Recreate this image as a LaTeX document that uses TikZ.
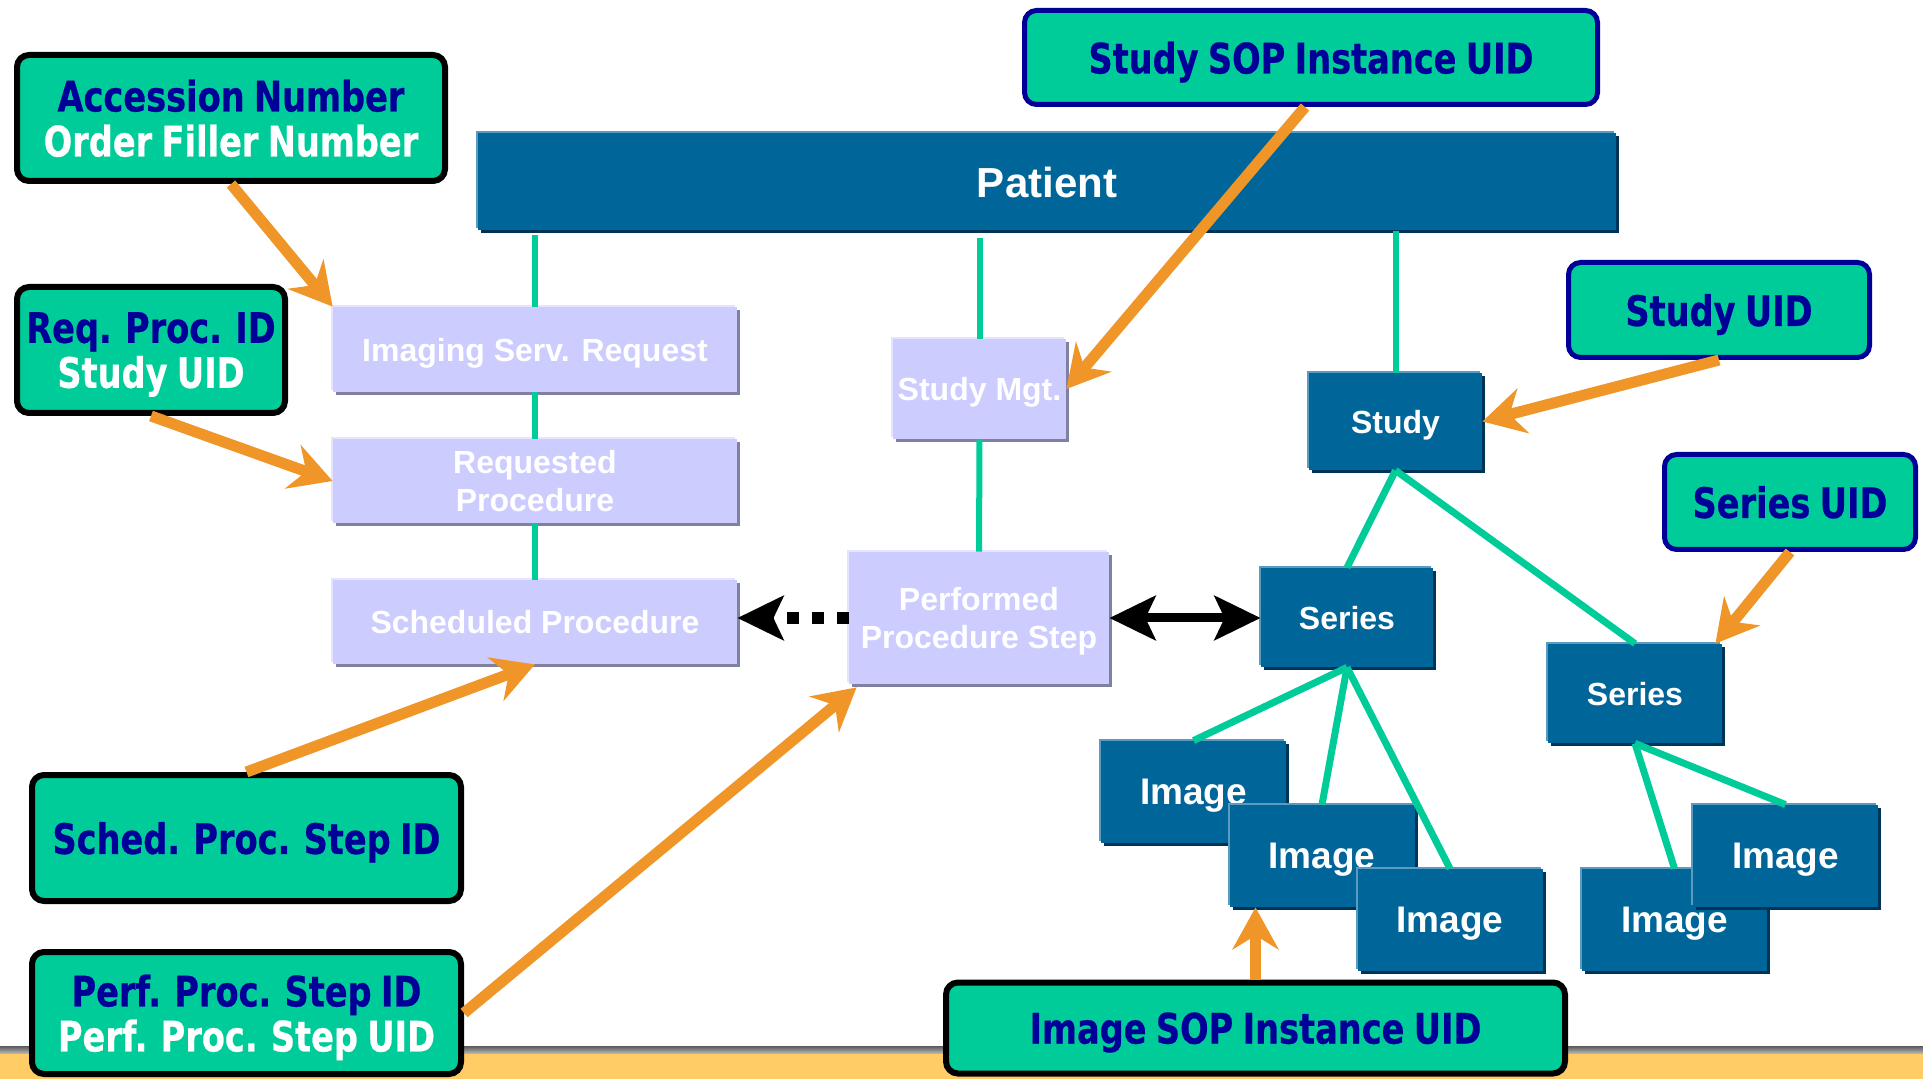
\documentclass[tikz,border=0pt]{standalone}
\usepackage{fontspec}
\setmainfont{Liberation Sans}
\newfontfamily\tah{DejaVu Sans}[FakeStretch=0.8, WordSpace=0.8, BoldFeatures={FakeBold=0.5}]
\usetikzlibrary{arrows.meta,shadows}
\definecolor{teal1}{RGB}{0,204,153}
\definecolor{navy1}{RGB}{0,0,153}
\definecolor{dblue}{RGB}{0,102,153}
\definecolor{dbluehi}{RGB}{91,155,192}
\definecolor{dbluesh}{RGB}{0,51,85}
\definecolor{lav}{RGB}{204,204,255}
\definecolor{lavhi}{RGB}{228,228,255}
\definecolor{lavsh}{RGB}{128,128,160}
\definecolor{orng}{RGB}{240,150,40}
\definecolor{band}{RGB}{255,204,102}
\begin{document}
\begin{tikzpicture}[x=0.5pt,y=-0.5pt,
  lavbox/.style={fill=lav, text=white, font=\bfseries\fontsize{16pt}{19pt}\selectfont,
    align=center, inner sep=0pt, text depth=0pt,
    general shadow={shadow xshift=1.5pt,shadow yshift=-1.5pt,fill=lavsh},
    general shadow={shadow xshift=-1pt,shadow yshift=1pt,fill=lavhi}},
  bluebox/.style={fill=dblue, text=white, font=\bfseries\fontsize{16pt}{19pt}\selectfont,
    align=center, inner sep=0pt, text depth=0pt,
    general shadow={shadow xshift=1.5pt,shadow yshift=-1.5pt,fill=dbluesh},
    general shadow={shadow xshift=-1pt,shadow yshift=1pt,fill=dbluehi}},
  imgbox/.style={bluebox, font=\bfseries\fontsize{18.5pt}{22pt}\selectfont,
    minimum width=92.5pt, minimum height=51pt},
  idbox/.style={fill=teal1, draw=black, line width=3pt, rounded corners=6pt,
    text=navy1, font=\tah\bfseries\fontsize{21pt}{22.5pt}\selectfont, align=center,
    inner sep=0pt, text depth=0pt},
  navybox/.style={idbox, draw=navy1, line width=2.5pt},
  tline/.style={draw=teal1, line width=3pt},
  tdiag/.style={draw=teal1, line width=3.5pt},
  oarrow/.style={draw=orng, line width=5.5pt, -{Stealth[length=21pt,width=23pt,inset=7pt]}},
  barrow/.style={draw=black, line width=4.5pt, {Stealth[length=23pt,width=22pt,inset=5pt]}-{Stealth[length=23pt,width=22pt,inset=5pt]}},
  darrow/.style={draw=black, line width=6pt, dash pattern=on 6pt off 6.5pt, -{Stealth[length=23pt,width=22pt,inset=5pt]}}
]
\useasboundingbox (0,0) rectangle (1923,1079);
\fill[white] (0,0) rectangle (1923,1079);
% bottom band
\shade[top color=black!65, bottom color=black!25] (0,1046) rectangle (1923,1054);
\fill[band] (0,1054) rectangle (1923,1079);

% main boxes
\node[bluebox, minimum width=569pt, minimum height=48.5pt, font=\bfseries\fontsize{21pt}{24pt}\selectfont] (pat) at (1047,182) {Patient};
\node[lavbox, minimum width=202pt, minimum height=42.5pt] (isr) at (535,349.5) {Imaging Serv. Request};
\node[lavbox, minimum width=202pt, minimum height=42pt] (rqp) at (535,481) {Requested\\Procedure};
\node[lavbox, minimum width=202pt, minimum height=42pt] (scp) at (535,622) {Scheduled Procedure};
\node[lavbox, minimum width=86.5pt, minimum height=50pt] (smg) at (979.5,389) {Study Mgt.};
\node[lavbox, minimum width=130pt, minimum height=66pt] (pps) at (979,618) {Performed\\Procedure Step};
\node[bluebox, minimum width=86.5pt, minimum height=48.5pt] (stu) at (1395.5,421.5) {Study};
\node[bluebox, minimum width=86pt, minimum height=49.5pt] (se1) at (1347,617.5) {Series};
\node[bluebox, minimum width=87pt, minimum height=49.5pt] (se2) at (1635,693.5) {Series};
\node[imgbox] (im1) at (1193.5,792) {Image};
\node[imgbox] (im2) at (1322,856) {Image};
\node[imgbox] (im3) at (1450,920) {Image};
\node[imgbox] (im4) at (1674.5,920) {Image};
\node[imgbox] (im5) at (1785.5,856) {Image};

% identifier boxes
\node[idbox, minimum width=214pt, minimum height=63pt] (acc) at (231,118) {Accession Number\\\textcolor{white}{Order Filler Number}};
\node[idbox, minimum width=134pt, minimum height=63pt] (rpi) at (151,350) {Req. Proc. ID\\\textcolor{white}{Study UID}};
\node[navybox, minimum width=286.5pt, minimum height=47pt] (ssop) at (1311,57.5) {Study SOP Instance UID};
\node[navybox, minimum width=150.5pt, minimum height=47.5pt] (suid) at (1719,310) {Study UID};
\node[navybox, minimum width=125.5pt, minimum height=47.5pt] (seuid) at (1790,502) {Series UID};
\node[idbox, minimum width=214.5pt, minimum height=63pt] (spsid) at (246.5,838) {Sched. Proc. Step ID};
\node[idbox, minimum width=214.5pt, minimum height=61pt] (ppsid) at (246.5,1013) {Perf. Proc. Step ID\\\textcolor{white}{Perf. Proc. Step UID}};
\node[idbox, minimum width=309.5pt, minimum height=45.5pt] (isop) at (1255.5,1028) {Image SOP Instance UID};

% teal hierarchy lines
\draw[tline] (isr.north |- pat.south) ++(0,4) -- (isr.north);
\draw[tline] (isr.south) -- (rqp.north);
\draw[tline] (rqp.south) -- (scp.north);
\draw[tline] (smg.north |- pat.south) ++(0,7) -- (smg.north);
\draw[tline] (smg.south) -- (pps.north);
\draw[tline] (stu.north |- pat.south) -- (stu.north);
\draw[tdiag] (stu.south) -- (se1.north);
\draw[tdiag] (stu.south) -- (se2.north);
\draw[tdiag] (se1.south) -- (im1.north);
\draw[tdiag] (se1.south) -- (im2.north);
\draw[tdiag] (se1.south) -- (im3.north);
\draw[tdiag] (se2.south) -- (im4.north);
\draw[tdiag] (se2.south) -- (im5.north);

% black arrows
\draw[darrow] (pps.west) -- (pps.west -| scp.east);
\draw[barrow] (pps.east) -- (pps.east -| se1.west);

% orange arrows
\draw[oarrow] (acc.south) -- (isr.north west);
\draw[oarrow] (rpi.south) -- (rqp.west);
\draw[oarrow] (spsid.north) -- (scp.south);
\draw[oarrow] (ppsid.east) -- ([xshift=4pt,yshift=-1.5pt]pps.south west);
\draw[oarrow] ([xshift=-3pt]ssop.south) -- (smg.east);
\draw[oarrow] (suid.south) -- (stu.east);
\draw[oarrow] (seuid.south) -- ([xshift=-3.5pt]se2.north east);
\draw[oarrow] (isop.north) -- (isop.north |- im2.south);
\end{tikzpicture}
\end{document}
